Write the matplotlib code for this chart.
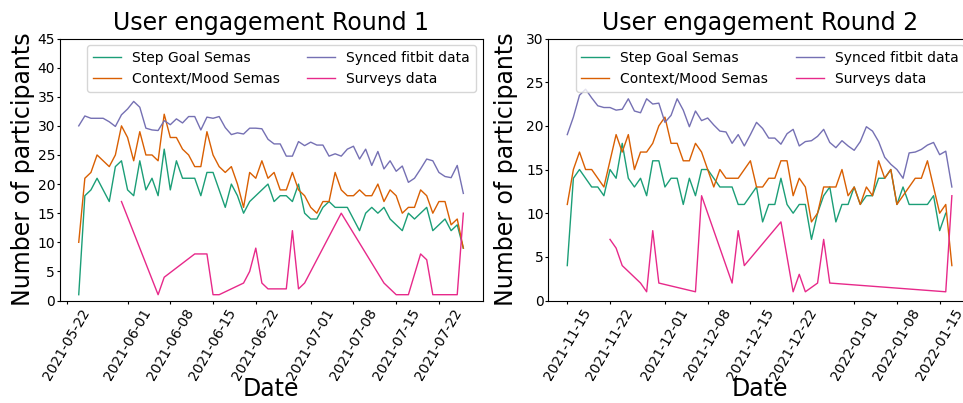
import numpy as np
import pandas as pd
import matplotlib
matplotlib.use("Agg")
from matplotlib import pyplot as plt
import matplotlib.dates as mdates

nan = np.nan

# Round 1 (daily, 2021-05-24 .. 2021-07-26)
dates1 = pd.date_range("2021-05-24", periods=64)
step1 = [1, 18, 19, 21, 19, 17, 23, 24, 19, 18,
         24, 19, 21, 18, 26, 19, 24, 21, 21, 21,
         18, 22, 22, 19, 16, 20, 18, 15, 17, 18,
         19, 20, 17, 18, 18, 17, 20, 15, 14, 14,
         16, 17, 16, 16, 16, 14, 12, 15, 16, 15,
         16, 14, 13, 12, 15, 14, 15, 16, 12, 13,
         14, 12, 13, 9]
mood1 = [10, 21, 22, 25, 24, 23, 25, 30, 28, 24,
         29, 25, 25, 24, 32, 28, 28, 26, 25, 23,
         23, 29, 25, 23, 22, 23, 20, 16, 22, 21,
         24, 21, 22, 19, 19, 22, 19, 18, 16, 15,
         17, 17, 22, 19, 18, 18, 19, 18, 18, 20,
         17, 19, 18, 15, 16, 16, 19, 18, 15, 17,
         17, 13, 14, 9]
fitbit1 = [30.0, 31.7, 31.3, 31.3, 31.3, 30.7, 29.9, 31.9, 32.9, 34.2,
           33.2, 29.6, 29.3, 29.2, 30.9, 30.2, 31.2, 30.5, 31.6, 31.6,
           29.3, 31.5, 31.3, 31.6, 29.7, 28.5, 28.8, 28.6, 29.6, 29.6,
           29.5, 27.7, 26.9, 26.9, 24.8, 24.8, 27.3, 26.6, 27.2, 26.7,
           26.7, 24.8, 25.2, 24.8, 26.0, 26.5, 24.3, 26.0, 23.2, 25.6,
           22.6, 24.0, 22.2, 23.1, 20.3, 21.0, 22.6, 24.3, 24.0, 22.0,
           21.3, 21.1, 23.2, 18.4]
survey_dates1 = ["2021-05-31", "2021-06-06", "2021-06-07", "2021-06-12", "2021-06-14",
                 "2021-06-15", "2021-06-16", "2021-06-20", "2021-06-21", "2021-06-22",
                 "2021-06-23", "2021-06-24", "2021-06-25", "2021-06-26", "2021-06-27",
                 "2021-06-28", "2021-06-29", "2021-06-30", "2021-07-06", "2021-07-13",
                 "2021-07-15", "2021-07-17", "2021-07-19", "2021-07-20", "2021-07-21",
                 "2021-07-25", "2021-07-26"]
survey1 = [17, 1, 4, 8, 8, 1, 1, 3, 5, 9, 3, 2, 2, 2, 2, 12, 2, 3, 15, 3,
           1, 1, 8, 7, 1, 1, 15]
ticks1 = ["2021-05-22", "2021-06-01", "2021-06-08", "2021-06-15", "2021-06-22",
          "2021-07-01", "2021-07-08", "2021-07-15", "2021-07-22"]

# Round 2 (daily, 2021-11-15 .. 2022-01-17)
dates2 = pd.date_range("2021-11-15", periods=64)
step2 = [4, 14, 15, 14, 13, 13, 12, 15, 14, 18,
         14, 13, 14, 12, 16, 16, 13, 14, 14, 11,
         14, 12, 15, 15, 14, 13, 13, 13, 11, 11,
         12, 13, 9, 11, 11, 14, 11, 10, 11, 11,
         7, 10, 12, 13, 9, 11, 11, 13, 11, 12,
         12, 14, 14, 15, 11, 13, 11, 11, 11, 11,
         12, 8, 10, nan]
mood2 = [11, 15, 17, 15, 15, 14, 13, 16, 19, 17,
         19, 15, 17, 17, 18, 20, 21, 18, 18, 16,
         16, 18, 17, 15, 13, 15, 14, 14, 14, 15,
         16, 13, 13, 14, 14, 16, 16, 12, 14, 13,
         9, 10, 13, 13, 13, 15, 12, 13, 11, 13,
         12, 16, 14, 15, 11, 12, 13, 14, 14, 16,
         13, 10, 11, 4]
fitbit2 = [19.0, 21.0, 23.5, 24.2, 23.2, 22.3, 22.1, 22.1, 21.8, 21.9,
           23.1, 21.7, 21.5, 23.1, 22.5, 22.6, 20.4, 21.2, 23.1, 21.8,
           19.9, 21.7, 20.6, 20.9, 20.1, 19.4, 19.3, 18.0, 19.0, 17.7,
           19.0, 20.4, 19.7, 18.6, 18.6, 17.9, 19.1, 19.6, 17.7, 18.2,
           18.3, 18.8, 19.6, 18.1, 17.5, 18.3, 17.7, 17.2, 18.2, 19.9,
           19.4, 18.2, 16.4, 15.6, 15.0, 14.0, 16.9, 17.0, 17.3, 17.8,
           18.1, 16.7, 17.1, 13.0]
survey_dates2 = ["2021-11-22", "2021-11-23", "2021-11-24", "2021-11-27", "2021-11-28",
                 "2021-11-29", "2021-11-30", "2021-12-06", "2021-12-07", "2021-12-12",
                 "2021-12-13", "2021-12-14", "2021-12-20", "2021-12-22", "2021-12-23",
                 "2021-12-24", "2021-12-26", "2021-12-27", "2021-12-28", "2022-01-16",
                 "2022-01-17"]
survey2 = [7, 6, 4, 2, 1, 8, 2, 1, 12, 2, 8, 4, 9, 1, 3, 1, 2, 7, 2, 1, 12]
ticks2 = ["2021-11-15", "2021-11-22", "2021-12-01", "2021-12-08", "2021-12-15",
          "2021-12-22", "2022-01-01", "2022-01-08", "2022-01-15"]

colors = ["#1b9e77", "#d95f02", "#7570b3", "#e7298a"]


def draw(ax, dates, step, mood, fitbit, sdates, survey, ticks, title, ymax, ypad):
    ax.plot(dates, step, color=colors[0], lw=1, label="Step Goal Semas")
    ax.plot(dates, mood, color=colors[1], lw=1, label="Context/Mood Semas")
    ax.plot(dates, fitbit, color=colors[2], lw=1, label="Synced fitbit data")
    ax.plot(pd.to_datetime(sdates), survey, color=colors[3], lw=1, label="Surveys data")
    ax.set_ylim(0, ymax)
    ax.set_yticks(np.arange(0, ymax + 1, 5))
    ax.set_xticks(pd.to_datetime(ticks))
    ax.xaxis.set_major_formatter(mdates.DateFormatter("%Y-%m-%d"))
    ax.tick_params(axis="x", labelrotation=60, labelsize=10, length=2.4, pad=1.5)
    ax.tick_params(axis="y", labelsize=10, length=2, pad=1.2)
    ax.set_title(title, fontsize=17)
    ax.set_xlabel("Date", fontsize=17, labelpad=-4)
    ax.set_ylabel("Number of participants", fontsize=17, labelpad=ypad)
    ax.legend(loc="upper right", ncol=2, fontsize=10)


fig = plt.figure(figsize=(9.63, 4.03), dpi=100)
ax1 = fig.add_axes([0.0618, 0.2543, 0.4393, 0.6501])
ax2 = fig.add_axes([0.5691, 0.2543, 0.4393, 0.6501])

draw(ax1, dates1, step1, mood1, fitbit1, survey_dates1, survey1, ticks1,
     "User engagement Round 1", 45, 2)
draw(ax2, dates2, step2, mood2, fitbit2, survey_dates2, survey2, ticks2,
     "User engagement Round 2", 30, 6)

fig.savefig("out.png", dpi=100)
